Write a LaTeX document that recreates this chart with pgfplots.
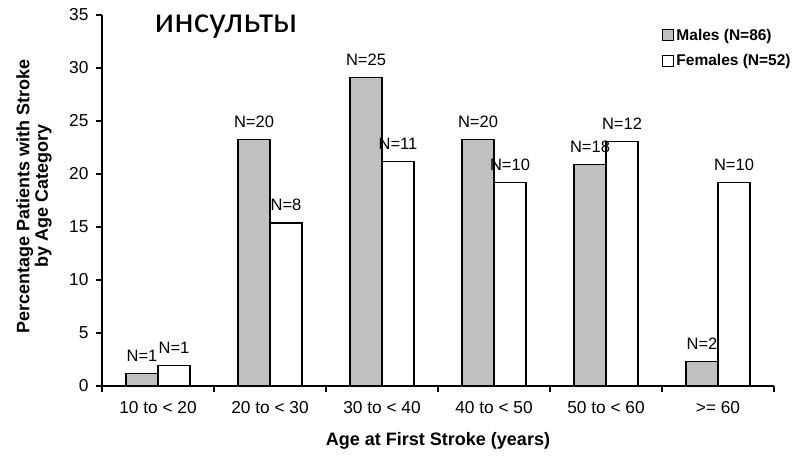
\documentclass[border=0pt]{standalone}
\usepackage{pgfplots}
\pgfplotsset{compat=1.18}
\usepackage{pgfplotstable}
\usepackage{fontspec}
\setmainfont{Liberation Sans}
\newfontfamily\titlefont{Carlito}
\definecolor{malegray}{HTML}{C0C0C0}

\pgfplotsset{sqlegend/.style={legend image code/.code={%
   \draw[##1, line width=1pt] (0pt,-5.5pt) rectangle (11pt,5.5pt);}}}

% percentages by age group, N = counts
\pgfplotstableread{
x m mn f fn
0 1.16 1 1.92 1
1 23.26 20 15.38 8
2 29.07 25 21.15 11
3 23.26 20 19.23 10
4 20.93 18 23.08 12
5 2.33 2 19.23 10
}\strokedata

\begin{document}
\begin{tikzpicture}
\path[use as bounding box] (-102pt,-69pt) rectangle (695pt,386pt);
\begin{axis}[
   at={(0pt,0pt)}, anchor=south west,
   scale only axis,
   width=672pt, height=371pt,
   xmin=-0.5, xmax=5.5, ymin=0, ymax=35,
   axis x line*=bottom, axis y line*=left,
   x axis line style={-, line width=1.2pt},
   y axis line style={-, line width=1.2pt},
   ybar=0pt, bar width=32pt,
   ytick={0,5,...,35},
   xtick={-0.5,0.5,...,5.5}, xticklabels={,,,,,,,},
   extra x ticks={0,1,2,3,4,5},
   extra x tick labels={10 to < 20, 20 to < 30, 30 to < 40, 40 to < 50, 50 to < 60, >= 60},
   extra x tick style={major tick length=0pt, xticklabel style={yshift=-12pt}},
   tick align=outside, major tick length=6pt,
   tick style={black, line width=1.1pt},
   /pgf/number format/assume math mode=true,
   tick label style={font=\fontsize{17.3}{19}\selectfont},
   yticklabel style={xshift=-4pt},
   xlabel={Age at First Stroke (years)},
   ylabel={Percentage Patients with Stroke\\by Age Category},
   every axis x label/.style={at={(axis description cs:0.5,-0.148)}, anchor=center,
      font=\bfseries\fontsize{18}{20}\selectfont},
   every axis y label/.style={at={(axis description cs:-0.101,0.512)}, rotate=90, anchor=center,
      align=center, font=\bfseries\fontsize{18}{18.5}\selectfont},
   legend style={at={(rel axis cs:0.833,0.97)}, anchor=north west, draw=none, fill=none,
      font=\bfseries\fontsize{15.5}{17}\selectfont, row sep=8pt, inner sep=0pt,
      nodes={inner sep=2.5pt}},
   legend cell align=left,
   nodes near coords={N=\pgfplotspointmeta},
   point meta=explicit symbolic,
   every node near coord/.append style={font=\fontsize{16.5}{18}\selectfont, black, yshift=8pt},
]
\addplot[fill=malegray, draw=black, line width=1.2pt, sqlegend]
   table[x=x, y=m, meta=mn] {\strokedata};
\addplot[fill=white, draw=black, line width=1.2pt, sqlegend]
   table[x=x, y=f, meta=fn] {\strokedata};
\legend{Males (N=86), Females (N=52)}
\node[anchor=base, font=\titlefont\fontsize{36.5}{40}\selectfont] at (rel axis cs:0.1845,0.954) {инсульты};
\end{axis}
\end{tikzpicture}
\end{document}
